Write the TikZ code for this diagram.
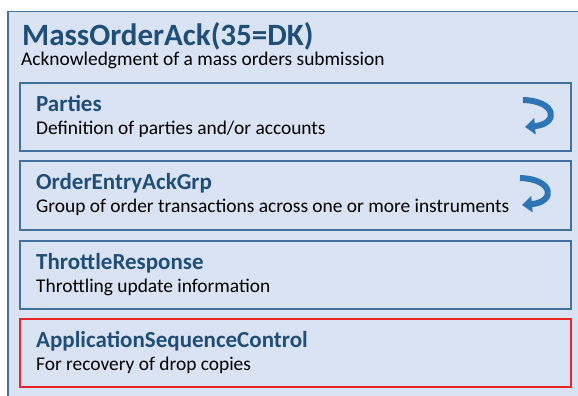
\documentclass[tikz,border=0pt]{standalone}
\usepackage{fontspec}
\setmainfont{Carlito}
\usetikzlibrary{arrows.meta}
\definecolor{panelfill}{HTML}{DAE3F3}
\definecolor{panelline}{HTML}{41719C}
\definecolor{titleblue}{HTML}{1F4E79}
\definecolor{alertred}{HTML}{E8262A}
\definecolor{arrowblue}{HTML}{2E75B6}
\begin{document}
\begin{tikzpicture}[x=1pt,y=1pt,
    msg box/.style={fill=panelfill,draw=panelline,line width=1.5pt,anchor=north west,
      minimum width=583pt,minimum height=399pt,inner sep=0pt},
    comp box/.style={draw=panelline,line width=1.2pt,minimum width=551pt,minimum height=68pt,inner sep=0pt},
    red box/.style={comp box,draw=alertred},
    msg title/.style={anchor=base west,inner sep=0pt,text=titleblue,font=\fontsize{31}{36}\selectfont\bfseries},
    comp title/.style={anchor=base west,inner sep=0pt,text=titleblue,font=\fontsize{23}{27}\selectfont\bfseries},
    comp text/.style={anchor=base west,inner sep=0pt,font=\fontsize{19.4}{23}\selectfont},
    loop arrow/.style={arrowblue,line width=6pt,-{Triangle[width=16pt,length=10pt]}} ]
    \useasboundingbox (0,0) rectangle (578,-396);
    \fill[white] (0,0) rectangle (578,-396);
    \node at (7,-11) [msg box] (msg) {};
    \node at (22,-46) [msg title] (msgT) {MassOrderAck(35=DK)};
    \node at (21,-66) [comp text] (msgD) {Acknowledgment of a mass orders submission};
    % repeating groups
    \node at (295.5,-117) [comp box] (parties) {};
    \node at (36,-111) [comp title] (partiesT) {Parties};
    \node at (36,-134) [comp text] (partiesD) {Definition of parties and/or accounts};
    \coordinate (partiesR) at (523,-100);
    \draw [loop arrow, shift={(partiesR)}] (0,0) .. controls (34,-1) and (36,-24) .. (2,-27);
    \node at (295.5,-195.5) [comp box, minimum height=69pt] (ackgrp) {};
    \node at (36,-189) [comp title] (ackgrpT) {OrderEntryAckGrp};
    \node at (36,-212) [comp text] (ackgrpD) {Group of order transactions across one or more instruments};
    \coordinate (ackgrpR) at (520,-178);
    \draw [loop arrow, shift={(ackgrpR)}] (0,0) .. controls (34,-1) and (36,-24) .. (2,-27);
    % components
    \node at (295.5,-275) [comp box] (throttle) {};
    \node at (36,-269) [comp title] (throttleT) {ThrottleResponse};
    \node at (36,-292) [comp text] (throttleD) {Throttling update information};
    \node at (295.5,-353) [red box] (appseq) {};
    \node at (36,-347) [comp title] (appseqT) {ApplicationSequenceControl};
    \node at (36,-370) [comp text] (appseqD) {For recovery of drop copies};
\end{tikzpicture}
\end{document}
